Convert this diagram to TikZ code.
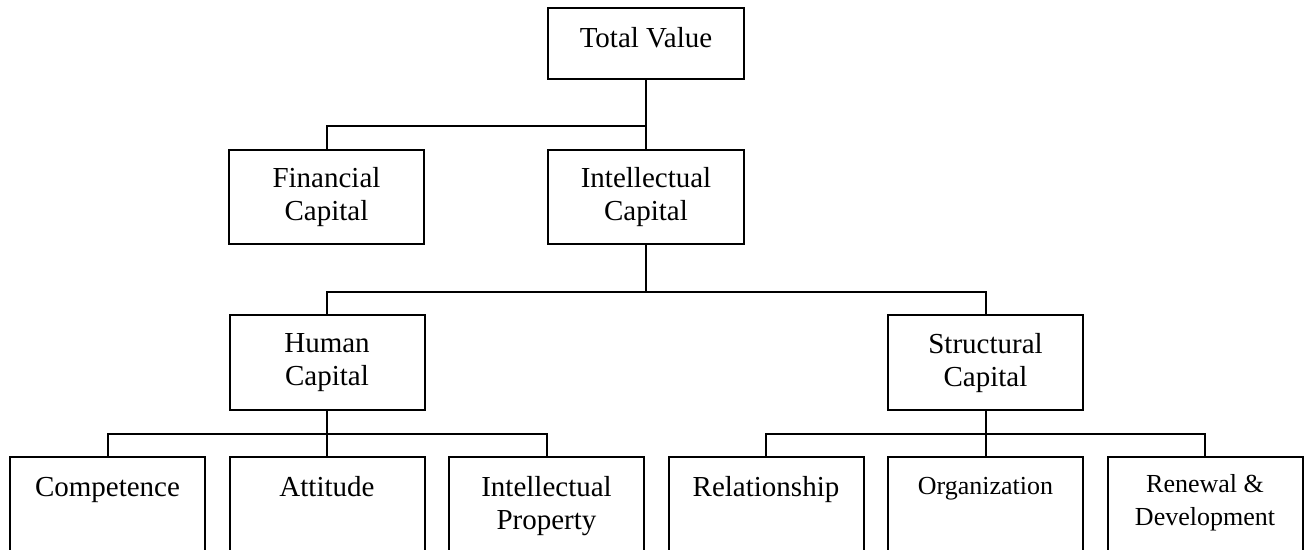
\documentclass[tikz,border=0pt]{standalone}
\usepackage{fontspec}
\setmainfont{Liberation Serif}
\begin{document}
\begin{tikzpicture}[x=1pt,y=-1pt,line width=2pt,
  big/.style={font=\fontsize{29}{33}\selectfont},
  small/.style={font=\fontsize{26}{33}\selectfont},
  box/.style={draw, rectangle, minimum width=195pt, inner sep=0pt, align=center, big},
  midbox/.style={box, minimum height=95pt},
  lowbox/.style={box, minimum height=150pt},
  toplbl/.style={anchor=north, inner sep=0pt, yshift=-19.5pt, text height=20pt, align=center, big},
  toplblsmall/.style={toplbl, small, text height=18pt},
  twolbl/.style={anchor=north, inner sep=0pt, yshift=-19.2pt, align=center, big},
  twolblsmall/.style={twolbl, small, yshift=1.6pt}]
\clip (0,0) rectangle (1306,549);
% level 0
\node[box, minimum width=196pt, minimum height=71pt, label={[toplbl]north:Total Value}] (tv) at (646,43.5) {};
% level 1
\node[midbox, minimum height=94pt] (fin) at (326.5,197) {Financial\\Capital};
\node[midbox, minimum width=196pt, minimum height=94pt] (ic) at (646,197) {Intellectual\\Capital};
% level 2
\node[midbox] (hum) at (327,362.8) {Human\\Capital};
\node[midbox] (str) at (985.5,362.8) {Structural\\Capital};
% level 3
\node[lowbox, label={[toplbl]north:Competence}] (comp) at (107.5,532.3) {};
\node[lowbox, label={[toplbl]north:Attitude}] (att) at (327,532.3) {};
\node[lowbox, label={[twolbl]north:Intellectual\\Property}] (ip) at (546.5,532.3) {};
\node[lowbox, label={[toplbl]north:Relationship}] (rel) at (766,532.3) {};
\node[lowbox, label={[toplblsmall]north:Organization}] (org) at (985.5,532.3) {};
\node[lowbox, label={[twolblsmall]north:Renewal \&\\Development}] (ren) at (1205,532.3) {};
% connectors
\coordinate (j1) at (646,126);
\coordinate (j2) at (646,291.7);
\coordinate (j3) at (327,433.7);
\coordinate (j4) at (985.5,433.7);
\draw (tv.south) -- (ic.north);
\draw (j1) -| (fin.north);
\draw (ic.south) -- (j2);
\draw (hum.north) |- (j2) -| (str.north);
\draw (hum.south) -- (att.north);
\draw (comp.north) |- (j3) -| (ip.north);
\draw (str.south) -- (org.north);
\draw (rel.north) |- (j4) -| (ren.north);
\end{tikzpicture}
\end{document}
